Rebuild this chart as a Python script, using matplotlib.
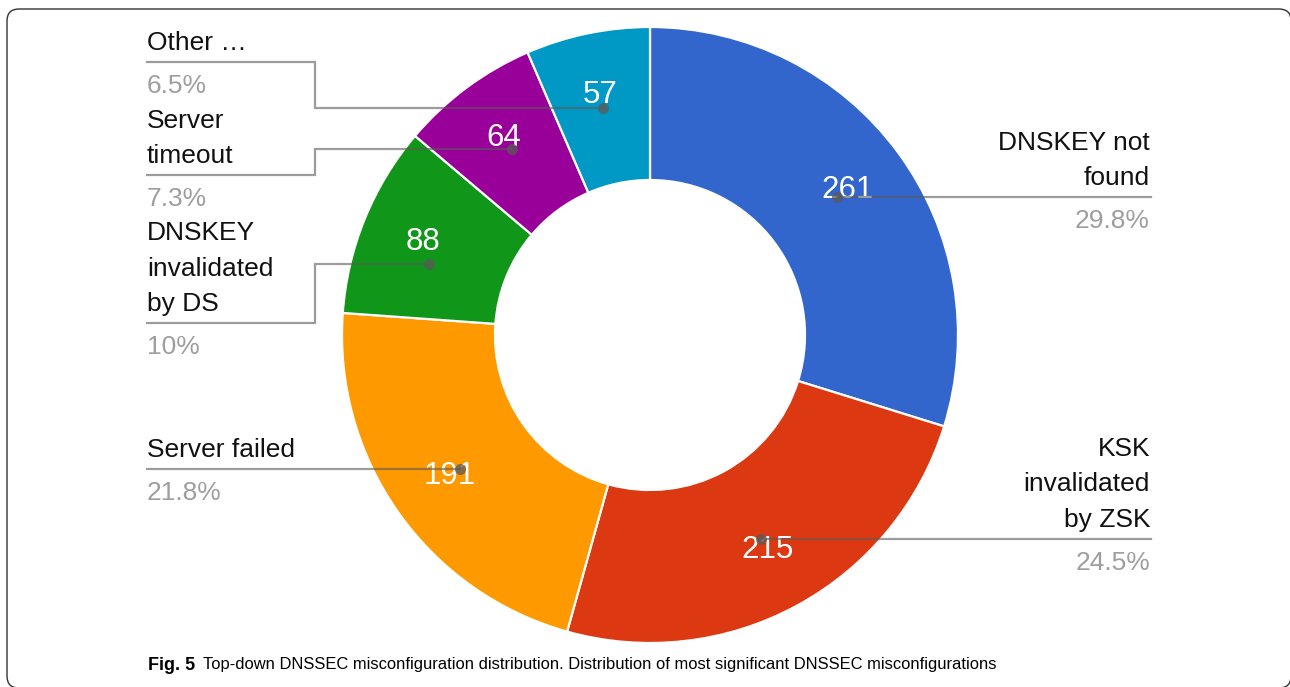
import numpy as np
import matplotlib
matplotlib.use("Agg")
import matplotlib.pyplot as plt
from matplotlib.patches import FancyBboxPatch

# data
names = ["DNSKEY not\nfound", "KSK\ninvalidated\nby ZSK", "Server failed",
         "DNSKEY\ninvalidated\nby DS", "Server\ntimeout", "Other \u2026"]
counts = [261, 215, 191, 88, 64, 57]
colors = ["#3366cc", "#dc3912", "#ff9900", "#109618", "#990099", "#0099c6"]

W, H = 1290, 687
plt.rcParams['font.family'] = ['Liberation Sans', 'DejaVu Sans']

fig = plt.figure(figsize=(W / 100, H / 100), dpi=100)
ax = fig.add_axes([0, 0, 1, 1])

# layout in pixels (y from top)
cx, cy = 650, 335
r_out, r_in = 308, 155
Y = lambda y: H - y

ax.pie(counts, colors=colors, startangle=90, counterclock=False,
       center=(cx, Y(cy)), radius=r_out,
       wedgeprops=dict(width=r_out - r_in, edgecolor="white", linewidth=1.6))
ax.set_xlim(0, W)
ax.set_ylim(0, H)
ax.set_aspect("equal")
ax.axis("off")

total = sum(counts)
cum = np.cumsum([0] + counts[:-1])
mid = [(c + v / 2) / total * 360 for c, v in zip(cum, counts)]

# side of each label, elbow x (None = straight) and rule line y
side = ["right", "right", "left", "left", "left", "left"]
elbow = [None, None, None, (315, 323), (315, 175), (315, 62)]
dot_shift = [0, 0, 0, -4.3, 0, 0]
x_right, x_left = 1151, 147

for i, (nm, v) in enumerate(zip(names, counts)):
    a = np.radians(mid[i])
    # value label
    tx = cx + 245 * np.sin(a)
    ty = cy - 245 * np.cos(a)
    ax.text(tx, Y(ty), str(v), color="white", fontsize=22.5, ha="center", va="center")
    # leader dot
    ad = np.radians(mid[i] + dot_shift[i])
    dx = cx + 232 * np.sin(ad)
    dy = cy - 232 * np.cos(ad)
    if side[i] == "right":
        xs, ys = [dx, x_right], [dy, dy]
        rule_y = dy
        xt, ha = x_right - 1, "right"
    else:
        if elbow[i] is None:
            xs, ys = [dx, x_left], [dy, dy]
            rule_y = dy
        else:
            ex, ey = elbow[i]
            xs, ys = [dx, ex, ex, x_left], [dy, dy, ey, ey]
            rule_y = ey
        xt, ha = x_left, "left"
    ax.plot(xs, [Y(y) for y in ys], color="#5a5a5a", alpha=0.6, lw=1.6,
            solid_joinstyle="miter", zorder=3)
    ax.plot(dx, Y(dy), "o", color="#5a5a5a", alpha=0.75, ms=8, mec="none", zorder=4)
    ax.text(xt, Y(rule_y - 7), nm, fontsize=19, ha=ha, va="bottom",
            linespacing=1.6, color="#111111", multialignment=ha)
    pct = f"{v / total * 100:.1f}%".replace(".0%", "%")
    ax.text(xt, Y(rule_y + 12), pct, fontsize=19, ha=ha, va="top", color="#9e9e9e")

# frame
ax.add_patch(FancyBboxPatch((7 + 12, Y(688) + 12), 1291 - 7 - 24, 688 - 9 - 24,
                            boxstyle="round,pad=12", fc="none", ec="#333333",
                            lw=1.0, zorder=5))

# caption
t1 = ax.text(148, Y(665), "Fig. 5", fontsize=13, fontweight="bold",
             va="center", ha="left")
ax.annotate("Top-down DNSSEC misconfiguration distribution. Distribution of most "
            "significant DNSSEC misconfigurations",
            xy=(1, 0.5), xycoords=t1, xytext=(6, 0), textcoords="offset points",
            fontsize=11.85, va="center", ha="left")

fig.savefig("out.png", dpi=100)
